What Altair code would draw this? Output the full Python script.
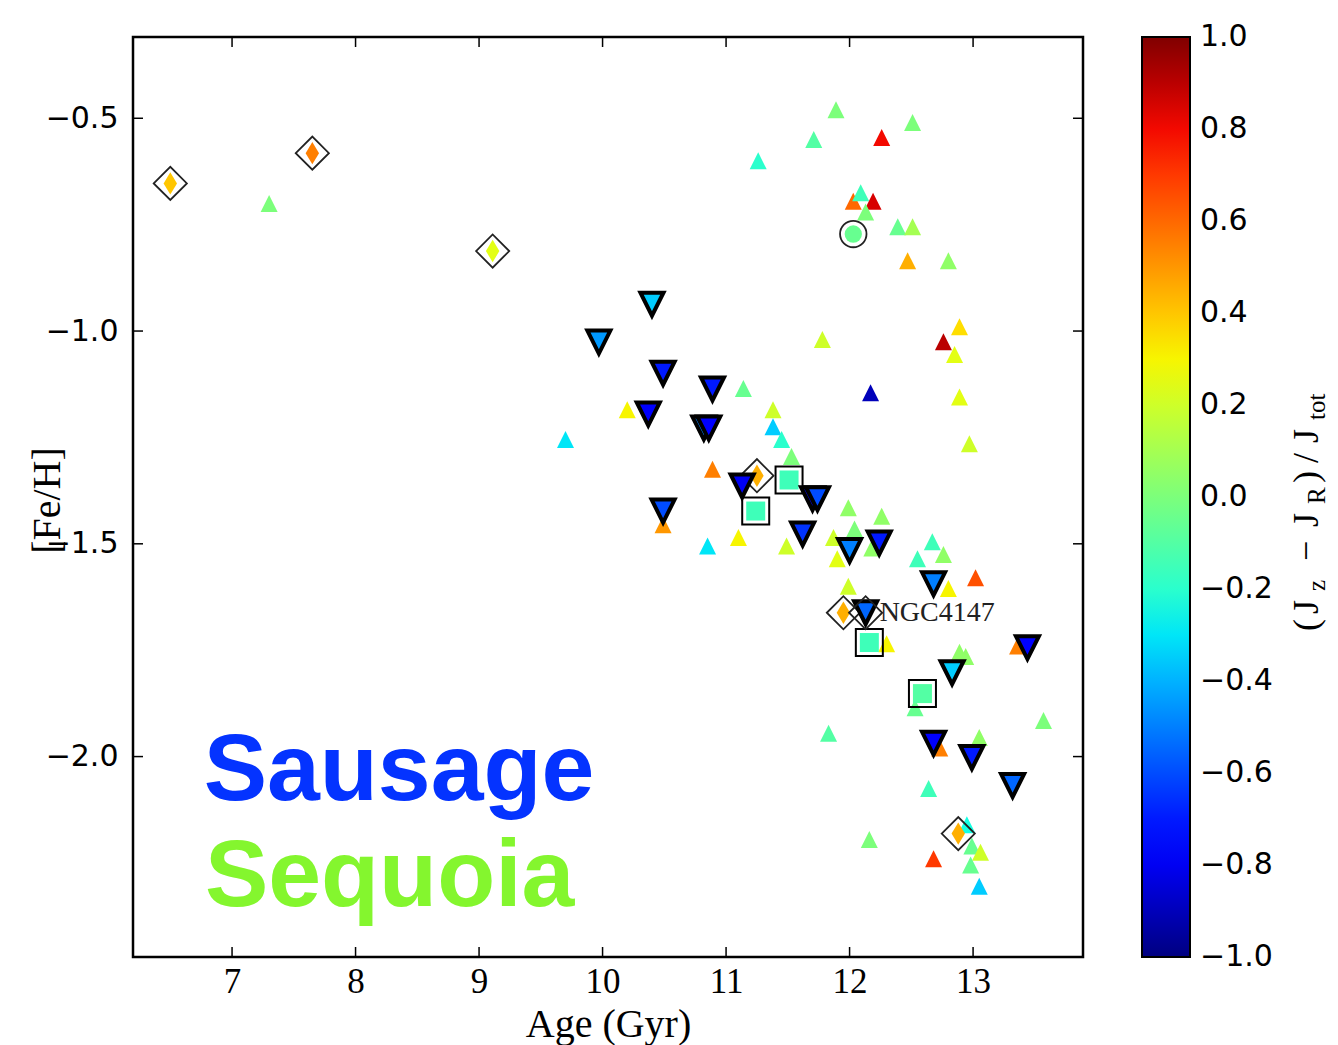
import altair as alt
import pandas as pd

# ---------------- data ----------------
# small up-triangles (all GCs), colour = (Jz - JR)/Jtot
tri_age = [7.30, 11.26, 11.71, 11.89, 12.26, 12.51, 12.03, 12.09, 12.19, 12.13,
           12.39, 12.51, 12.47, 12.80, 11.78, 12.89, 12.76, 12.85, 12.17, 12.89,
           12.97, 9.70, 10.20, 11.14, 11.38, 11.38, 11.45, 11.53, 10.89, 10.49,
           10.85, 11.10, 11.49, 11.99, 12.26, 12.04, 11.87, 11.90, 12.18, 12.67,
           12.55, 12.76, 11.99, 12.80, 13.02, 12.30, 13.36, 12.89, 12.94, 12.53,
           13.57, 11.83, 13.05, 12.73, 12.64, 12.16, 12.95, 12.99, 13.06, 12.68,
           12.98, 13.05]
tri_feh = [-0.70, -0.60, -0.55, -0.48, -0.545, -0.51, -0.695, -0.675, -0.695, -0.72,
           -0.755, -0.755, -0.835, -0.835, -1.02, -0.99, -1.025, -1.055, -1.145, -1.155,
           -1.265, -1.255, -1.185, -1.135, -1.185, -1.225, -1.255, -1.295, -1.325, -1.455,
           -1.505, -1.485, -1.505, -1.415, -1.435, -1.465, -1.485, -1.535, -1.51, -1.495,
           -1.535, -1.525, -1.60, -1.605, -1.58, -1.735, -1.74, -1.755, -1.765, -1.885,
           -1.915, -1.945, -1.955, -1.98, -2.075, -2.195, -2.16, -2.21, -2.225, -2.24,
           -2.255, -2.305]
tri_c = [0.0, -0.2, -0.1, 0.0, 0.8, 0.0, 0.6, -0.15, 0.85, 0.0,
         -0.05, 0.1, 0.45, 0.05, 0.2, 0.35, 0.9, 0.25, -0.9, 0.25,
         0.2, -0.3, 0.3, -0.05, 0.2, -0.35, -0.2, 0.0, 0.55, 0.5,
         -0.3, 0.3, 0.2, 0.05, 0.05, 0.0, 0.2, 0.25, 0.05, -0.15,
         -0.15, 0.05, 0.2, 0.3, 0.65, 0.3, 0.55, 0.05, 0.05, -0.05,
         0.0, -0.1, 0.05, 0.55, -0.15, 0.0, -0.25, -0.05, 0.2, 0.7,
         -0.05, -0.35]

# Sausage GCs (down-triangles)
sau_age = [10.40, 9.97, 10.49, 10.89, 10.37, 10.82, 10.86, 11.13, 10.49, 11.70,
           11.74, 11.62, 12.00, 12.24, 12.68, 12.13, 13.44, 12.83, 12.68, 12.99, 13.32]
sau_feh = [-0.937, -1.026, -1.099, -1.136, -1.195, -1.228, -1.228, -1.364, -1.423, -1.394,
           -1.394, -1.477, -1.516, -1.498, -1.594, -1.662, -1.744, -1.803, -1.969, -2.002, -2.068]
sau_c = [-0.35, -0.45, -0.7, -0.7, -0.75, -0.5, -0.75, -0.8, -0.6, -0.75,
         -0.6, -0.65, -0.5, -0.7, -0.5, -0.55, -0.75, -0.35, -0.75, -0.7, -0.55]

# diamonds
dia_age = [6.50, 7.65, 9.11, 11.25, 11.95, 12.88]
dia_feh = [-0.653, -0.582, -0.812, -1.340, -1.662, -2.181]
dia_c = [0.4, 0.55, 0.25, 0.45, 0.45, 0.45]

# squares
sq_age = [11.51, 11.24, 12.16, 12.59]
sq_feh = [-1.350, -1.423, -1.732, -1.852]
sq_c = [-0.15, -0.15, -0.15, -0.1]

# circle
ci_age = [12.03]
ci_feh = [-0.772]
ci_c = [-0.05]

# NGC 4147
ngc_age = [12.13]
ngc_feh = [-1.662]
ngc_label = ["NGC4147"]

x_ticks = [7, 8, 9, 10, 11, 12, 13]
y_ticks = [-2.0, -1.5, -1.0, -0.5]
cb_ticks = [-1.0, -0.8, -0.6, -0.4, -0.2, 0.0, 0.2, 0.4, 0.6, 0.8, 1.0]
cb_inner = [-0.8, -0.6, -0.4, -0.2, 0.0, 0.2, 0.4, 0.6, 0.8]

# jet colormap (matplotlib segment breakpoints)
jet_dom = [-1.0, -0.78, -0.75, -0.32, -0.30, -0.25, 0.28, 0.30, 0.32, 0.78, 0.82, 1.0]
jet_rng = ["#000080", "#0000ff", "#0000ff", "#00dbff", "#00e6f7", "#15ffe2",
           "#efff08", "#f7f500", "#ffec00", "#ff1300", "#e80000", "#800000"]

# ---------------- layout ----------------
W, H = 950, 920
XDOM = [6.198, 13.89]
YDOM = [-2.471, -0.309]

xs = alt.Scale(domain=XDOM, nice=False, zero=False)
ys = alt.Scale(domain=YDOM, nice=False, zero=False)
cs = alt.Scale(domain=jet_dom, range=jet_rng, interpolate="rgb", type="linear")
cbs = alt.Scale(domain=[-1, 1], nice=False, zero=False)

legend = alt.Legend(title=None, orient="none", legendX=1009, legendY=0,
                    direction="vertical", gradientLength=920, gradientThickness=48,
                    gradientStrokeColor="black", gradientStrokeWidth=2,
                    labelExpr="''", values=[-1, 1], labelOpacity=0, padding=0)

xaxis = alt.Axis(title="Age (Gyr)", values=x_ticks, format="d", grid=False,
                 domain=False, ticks=False, tickSize=0, labelPadding=7,
                 labelFont="Liberation Serif", labelFontSize=35, labelColor="black",
                 titleFont="Liberation Serif", titleFontSize=40, titleFontWeight="normal",
                 titleColor="black", titleY=79, titleBaseline="alphabetic")
yaxis = alt.Axis(title="[Fe/H]", values=y_ticks, format=".1f", grid=False,
                 domain=False, ticks=False, tickSize=0, labelPadding=15,
                 labelFont="DejaVu Sans", labelFontSize=30, labelColor="black",
                 titleFont="Liberation Serif", titleFontSize=40, titleFontWeight="normal",
                 titleColor="black", titleX=-66, titleY=463, titleBaseline="bottom",
                 titleAngle=270)

df_tri = pd.DataFrame({"age": tri_age, "feh": tri_feh, "c": tri_c})
df_sau = pd.DataFrame({"age": sau_age, "feh": sau_feh, "c": sau_c})
df_dia = pd.DataFrame({"age": dia_age, "feh": dia_feh, "c": dia_c})
df_sq = pd.DataFrame({"age": sq_age, "feh": sq_feh, "c": sq_c})
df_ci = pd.DataFrame({"age": ci_age, "feh": ci_feh, "c": ci_c})
df_ngc = pd.DataFrame({"age": ngc_age, "feh": ngc_feh, "label": ngc_label})

TRI_UP = "M0,-1L1,1L-1,1Z"
TRI_DN = "M-1,-1L1,-1L0,1Z"
THIN_D = "M-0.6,0L0,-1L0.6,0L0,1Z"


def X():
    return alt.X("age:Q", scale=xs, axis=xaxis)


def Y():
    return alt.Y("feh:Q", scale=ys, axis=yaxis)


def xy():
    return dict(x=X(), y=Y())


def C():
    return alt.Color("c:Q", scale=cs, legend=legend)


tri = alt.Chart(df_tri).mark_point(filled=True, shape=TRI_UP, size=289, opacity=1).encode(
    **xy(), color=C())

sq_fill = alt.Chart(df_sq).mark_point(filled=True, shape="square", size=361, opacity=1).encode(
    **xy(), color=C())
sq_out = alt.Chart(df_sq).mark_point(filled=False, shape="square", size=729, opacity=1,
                                     color="black", strokeWidth=2).encode(**xy())

ci_fill = alt.Chart(df_ci).mark_point(filled=True, shape="circle", size=300, opacity=1).encode(
    **xy(), color=C())
ci_out = alt.Chart(df_ci).mark_point(filled=False, shape="circle", size=700, opacity=1,
                                     color="#222222", strokeWidth=1.8).encode(**xy())

dia_fill = alt.Chart(df_dia).mark_point(filled=True, shape=THIN_D, size=500, opacity=1).encode(
    **xy(), color=C())
dia_out = alt.Chart(df_dia).mark_point(filled=False, shape="diamond", size=1100, opacity=1,
                                       color="#222222", strokeWidth=1.8).encode(**xy())

sau = alt.Chart(df_sau).mark_point(filled=True, shape=TRI_DN, size=530, opacity=1,
                                   stroke="black", strokeWidth=4).encode(
    **xy(), color=C())

ngc_out = alt.Chart(df_ngc).mark_point(filled=False, shape="diamond", size=1100, opacity=1,
                                       color="#222222", strokeWidth=1.8).encode(**xy())
ngc_txt = alt.Chart(df_ngc).mark_text(align="left", baseline="middle", dx=14,
                                      font="Liberation Serif", fontSize=28,
                                      color="#222222").encode(**xy(), text="label:N")

# big labels
ann = pd.DataFrame({"age": [6.77, 6.78], "feh": [-2.103, -2.352],
                    "label": ["Sausage", "Sequoia"], "col": ["#0433ff", "#84f62e"]})
big = alt.Chart(ann).mark_text(align="left", baseline="alphabetic", font="Liberation Sans",
                               fontSize=95, fontWeight="bold").encode(
    **xy(), text="label:N", color=alt.Color("col:N", scale=None, legend=None))

# inward frame ticks
df_xt = pd.DataFrame({"age": x_ticks})
df_yt = pd.DataFrame({"feh": y_ticks})
xt_b = alt.Chart(df_xt).mark_rule(color="black", strokeWidth=1.5).encode(
    x=X(), y=alt.value(H), y2=alt.value(H - 10))
xt_t = alt.Chart(df_xt).mark_rule(color="black", strokeWidth=1.5).encode(
    x=X(), y=alt.value(0), y2=alt.value(10))
yt_l = alt.Chart(df_yt).mark_rule(color="black", strokeWidth=1.5).encode(
    y=Y(), x=alt.value(0), x2=alt.value(10))
yt_r = alt.Chart(df_yt).mark_rule(color="black", strokeWidth=1.5).encode(
    y=Y(), x=alt.value(W - 10), x2=alt.value(W))

main = alt.layer(tri, xt_b, xt_t, yt_l, yt_r, sq_fill, sq_out, ci_fill, ci_out,
                 dia_fill, dia_out, sau, ngc_out, ngc_txt, big)

# colorbar ticks and labels (own y scale spanning -1..1 over the bar)
df_cbt = pd.DataFrame({"v": cb_inner})
df_cbl = pd.DataFrame({"v": cb_ticks})
cbt = alt.Chart(df_cbt).mark_rule(color="black", strokeWidth=1.5).encode(
    y=alt.Y("v:Q", scale=cbs, axis=None), x=alt.value(1049), x2=alt.value(1057))
cbl = alt.Chart(df_cbl).mark_text(align="left", baseline="middle", font="DejaVu Sans",
                                  fontSize=30, color="black").encode(
    y=alt.Y("v:Q", scale=cbs, axis=None), x=alt.value(1067),
    text=alt.Text("v:Q", format=".1f"))
cb = alt.layer(cbt, cbl)

# colorbar title, pieces rotated (bottom-to-top)
pieces = [("(", 594, False), ("J", 577, False), ("z", 554, True), ("\u2212", 524, False),
          ("J", 490, False), ("R", 467, True), (")", 446, False), ("/", 426, False),
          ("J", 406, False), ("tot", 383, True)]
title_layers = []
for txt, ypos, sub in pieces:
    title_layers.append(
        alt.Chart(pd.DataFrame({"t": [txt]})).mark_text(
            align="left", baseline="alphabetic", angle=270, font="Liberation Serif",
            fontSize=25 if sub else 36, color="black").encode(
            text="t:N", x=alt.value(1192 if sub else 1185), y=alt.value(ypos)))

chart = alt.layer(main, cb, *title_layers).resolve_scale(y="independent").properties(
    width=W, height=H,
    background="white",
    autosize=alt.AutoSizeParams(type="none"),
    padding={"left": 133, "top": 37, "right": 255, "bottom": 88},
).configure_view(stroke="black", strokeWidth=2.5)

chart.save("out.html", embed_options={"renderer": "svg", "actions": False})
